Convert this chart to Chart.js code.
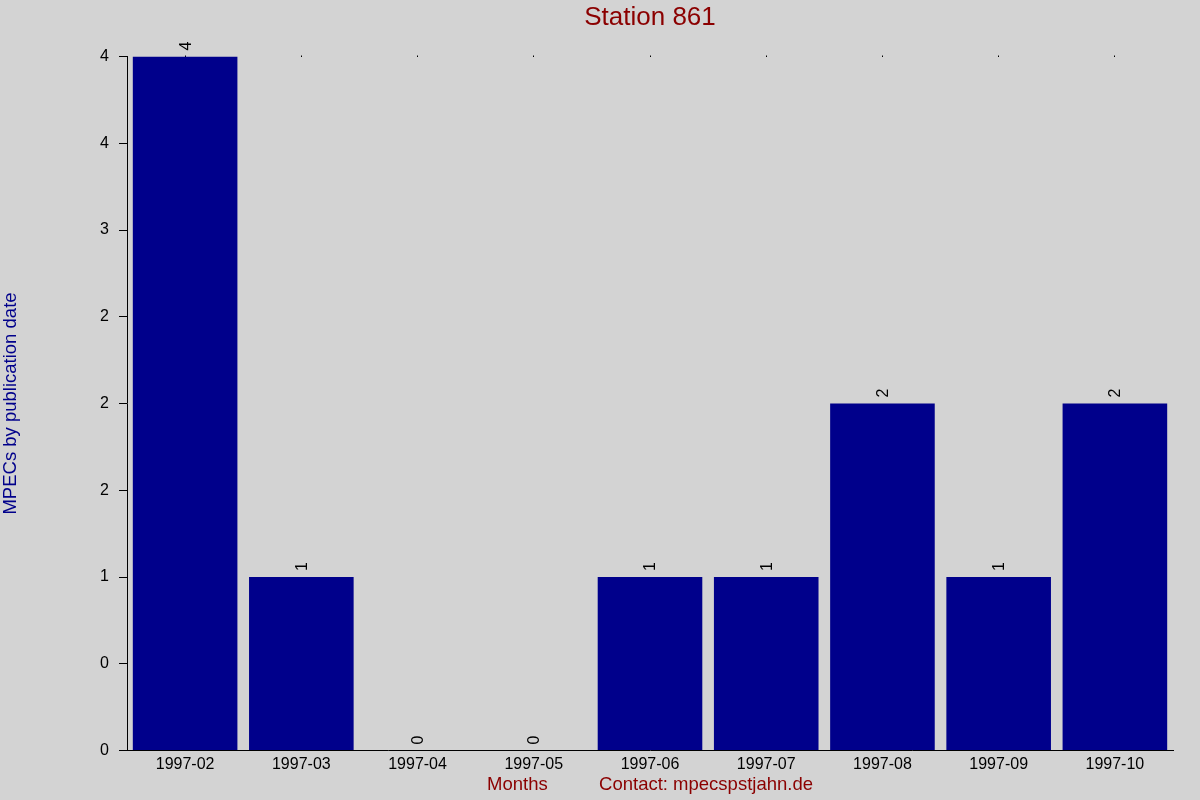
<!DOCTYPE html>
<html>
<head>
<meta charset="utf-8">
<script src="https://cdn.jsdelivr.net/npm/chart.js@4/dist/chart.umd.min.js"></script>
<style>
  html, body { margin: 0; padding: 0; background: #d3d3d3; }
  canvas { display: block; }
</style>
</head>
<body>
<canvas id="c" width="1200" height="800"></canvas>
<script>
const months = ['1997-02','1997-03','1997-04','1997-05','1997-06','1997-07','1997-08','1997-09','1997-10'];
const mpecCounts = [4, 1, 0, 0, 1, 1, 2, 1, 2];
const chartTitle = 'Station 861';
const yTitle = 'MPECs by publication date';
const xTitle = 'Months\u00a0\u00a0\u00a0\u00a0\u00a0\u00a0\u00a0\u00a0\u00a0\u00a0Contact: mpecspstjahn.de';

const FONT = 'Liberation Sans, Arial, sans-serif';

function bankersRound(v) {
  const f = Math.floor(v);
  const d = v - f;
  if (Math.abs(d - 0.5) < 1e-9) return (f % 2 === 0) ? f : f + 1;
  return Math.round(v);
}

const bgPlugin = {
  id: 'bg',
  beforeDraw(chart) {
    const ctx = chart.ctx;
    ctx.save();
    ctx.fillStyle = '#d3d3d3';
    ctx.fillRect(0, 0, chart.width, chart.height);
    ctx.restore();
  }
};

const valueLabels = {
  id: 'valueLabels',
  afterDatasetsDraw(chart) {
    const ctx = chart.ctx;
    const meta = chart.getDatasetMeta(0);
    const data = chart.data.datasets[0].data;
    ctx.save();
    ctx.fillStyle = '#000';
    ctx.font = '16px ' + FONT;
    ctx.textAlign = 'left';
    ctx.textBaseline = 'middle';
    meta.data.forEach((bar, i) => {
      ctx.save();
      ctx.translate(bar.x + 1, bar.y - 6);
      ctx.rotate(-Math.PI / 2);
      ctx.fillText(String(data[i]), 0, 0);
      ctx.restore();
    });
    ctx.restore();
  }
};

new Chart(document.getElementById('c'), {
  type: 'bar',
  data: {
    labels: months,
    datasets: [{
      data: mpecCounts,
      backgroundColor: '#00008b',
      borderWidth: 0,
      barPercentage: 0.9,
      categoryPercentage: 1.0
    }]
  },
  options: {
    responsive: false,
    animation: false,
    devicePixelRatio: 1,
    layout: { padding: { left: 0, right: 27, top: 0, bottom: 0 } },
    plugins: {
      legend: { display: false },
      title: { display: false },
      tooltip: { enabled: false }
    },
    scales: {
      x: {
        type: 'category',
        position: 'bottom',
        offset: true,
        grid: { display: false, drawTicks: false, offset: true },
        border: { display: true, color: '#000', width: 1 },
        ticks: { color: '#000', font: { family: FONT, size: 16 }, padding: 4, maxRotation: 0, autoSkip: false },
        title: {
          display: true,
          text: xTitle,
          color: '#8b0000',
          font: { family: FONT, size: 18.5 },
          padding: { top: 0, bottom: 4 }
        },
        afterFit: (s) => { s.height = 49.5; }
      },
      x2: {
        type: 'category',
        position: 'top',
        offset: true,
        grid: { display: true, drawOnChartArea: false, drawTicks: true, tickLength: 1, offset: false, color: '#000' },
        border: { display: false },
        ticks: { display: false },
        title: {
          display: true,
          text: chartTitle,
          color: '#8b0000',
          font: { family: FONT, size: 26 },
          padding: { top: 2, bottom: 0 }
        },
        afterFit: (s) => { s.height = 56.5; }
      },
      y: {
        min: 0,
        max: 4,
        position: 'left',
        grid: { display: true, drawOnChartArea: false, drawTicks: true, tickLength: 8, color: '#000' },
        border: { display: true, color: '#000', width: 1 },
        ticks: {
          stepSize: 0.5,
          color: '#000',
          font: { family: FONT, size: 16 },
          padding: 10,
          callback: (v) => String(bankersRound(v))
        },
        title: {
          display: true,
          text: yTitle,
          color: '#00008b',
          font: { family: FONT, size: 18.5 },
          padding: { top: 0, bottom: 0 }
        },
        afterFit: (s) => { s.width = 127; }
      }
    }
  },
  plugins: [bgPlugin, valueLabels]
});
</script>
</body>
</html>
